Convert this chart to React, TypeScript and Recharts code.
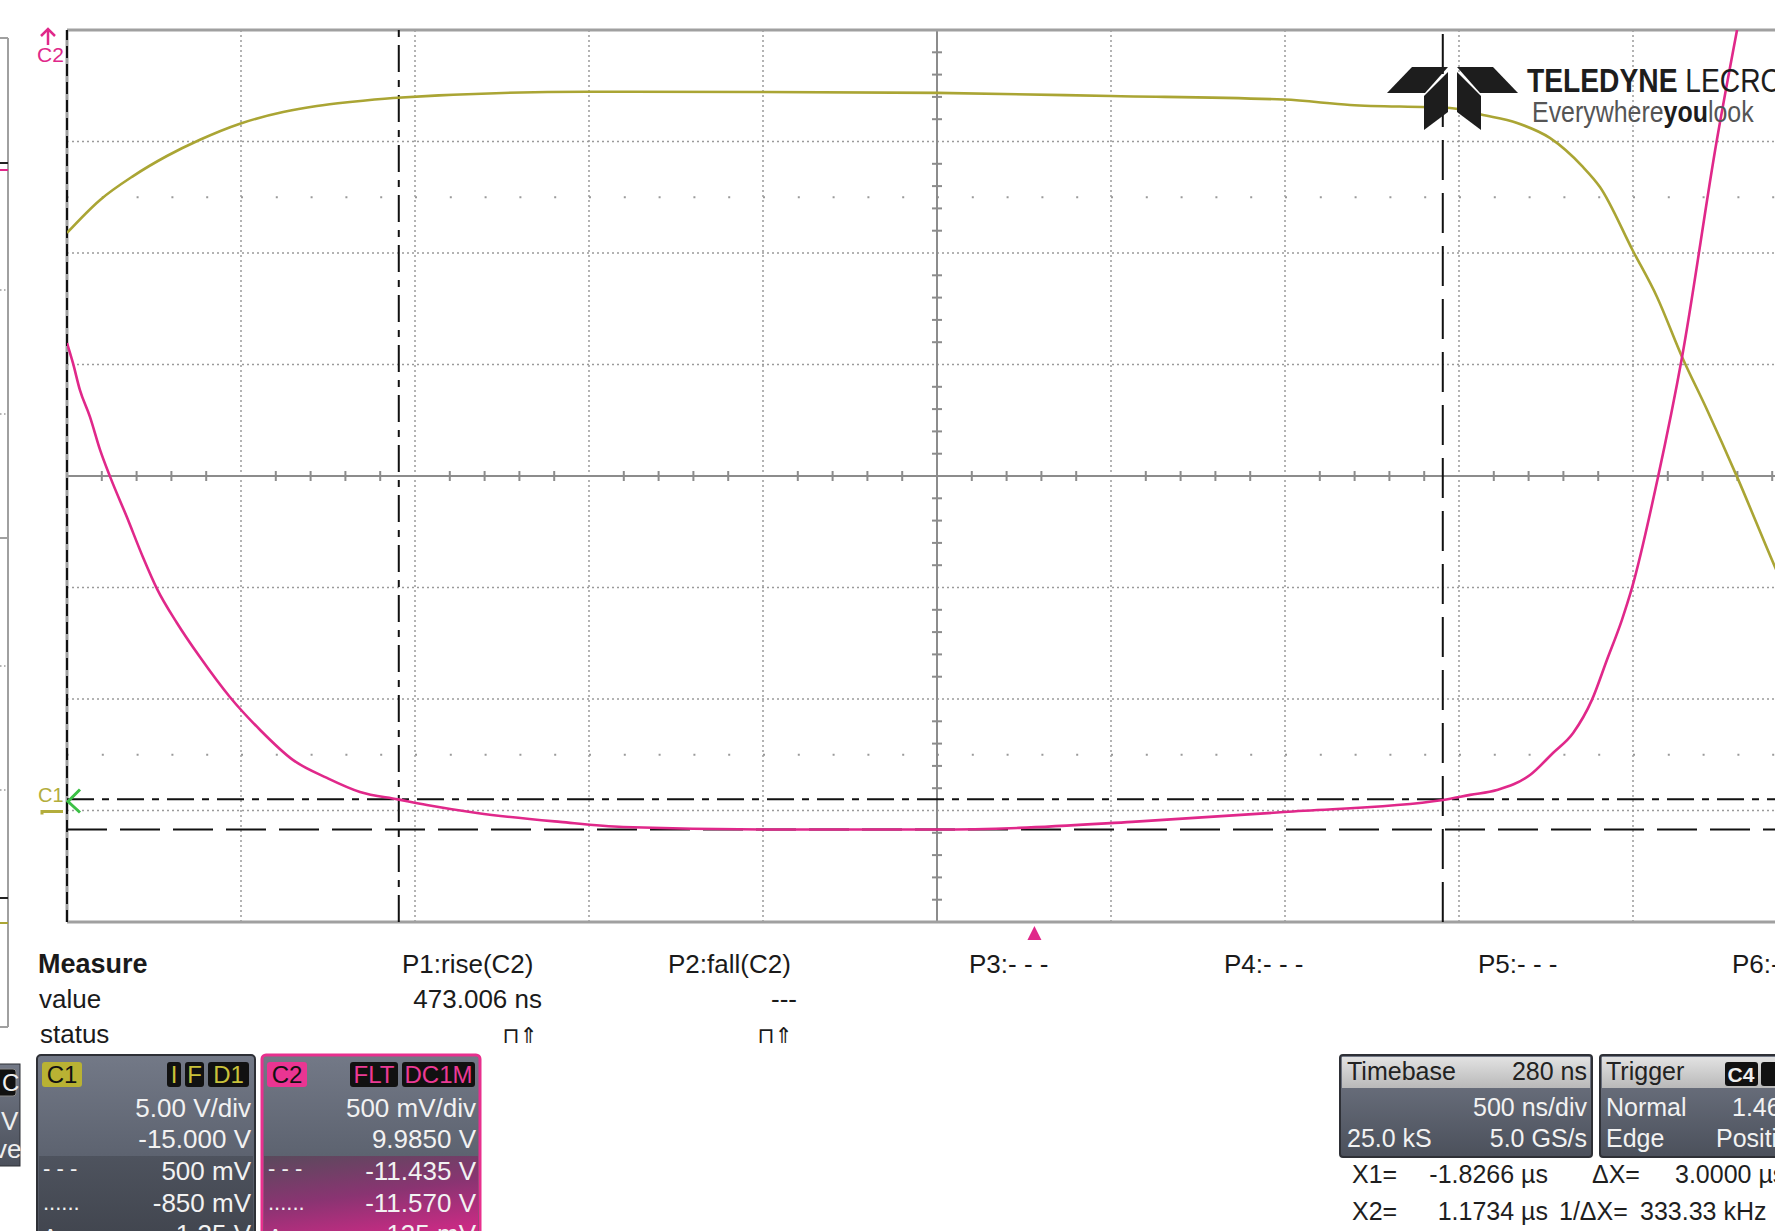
import { LineChart, Line, XAxis, YAxis, ReferenceLine, ReferenceDot } from "recharts";

// Horizontal: 10 div x 500 ns/div, centre at -280 ns (µs units)
const T_MIN = -2.78;
const T_MAX = 2.22;
// C2: 500 mV/div, offset 9.985 V -> centre at -9.985 V, 8 div tall
const C2_MIN = -11.985;
const C2_MAX = -7.985;
const C2_CENTER = -9.985;
const T_CENTER = -0.28;
// C1: 5 V/div, offset -15 V
const C1_MIN = -5;
const C1_MAX = 35;

// C1 trace (olive), time in µs, volts
const c1Time = [
  -2.78, -2.685, -2.59, -2.493, -2.398, -2.283, -2.159, -2.062, -1.967, -1.843, -1.286, -0.789, -0.28, 0.22,
  0.717, 0.907, 1.194, 1.289, 1.387, 1.481, 1.576, 1.625, 1.72, 1.789, 1.861, 1.933, 2.019, 2.128, 2.22,
];
const c1Volts = [
  25.9, 27.38, 28.45, 29.35, 30.08, 30.8, 31.32, 31.59, 31.77, 31.95, 32.23, 32.22, 32.18, 32.04, 31.88, 31.64,
  31.5, 31.19, 30.83, 30.16, 28.86, 27.96, 25.09, 23.03, 20.34, 17.96, 14.96, 10.92, 7.7,
];

// C2 trace (magenta)
const c2Time = [
  -2.78, -2.763, -2.743, -2.714, -2.685, -2.656, -2.608, -2.562, -2.521, -2.464, -2.398, -2.312, -2.225, -2.131,
  -2.033, -1.938, -1.829, -1.746, -1.602, -1.363, -1.182, -0.783, -0.28, -0.044, 0.28, 0.717, 1.174, 1.252, 1.329,
  1.424, 1.49, 1.548, 1.602, 1.645, 1.688, 1.717, 1.792, 1.861, 1.961, 2.019,
];
const c2Volts = [
  -9.389, -9.478, -9.599, -9.72, -9.868, -9.989, -10.169, -10.348, -10.492, -10.644, -10.797, -10.976, -11.124,
  -11.258, -11.339, -11.402, -11.435, -11.46, -11.496, -11.536, -11.559, -11.57, -11.57, -11.563, -11.536, -11.492,
  -11.438, -11.415, -11.393, -11.326, -11.227, -11.137, -10.989, -10.81, -10.631, -10.487, -9.989, -9.451, -8.478,
  -7.985,
];

const gridTimes = [-2.28, -1.78, -1.28, -0.78, 0.22, 0.72, 1.22, 1.72];
const gridVolts = [-11.485, -10.985, -10.485, -9.485, -8.985, -8.485];
const dotRowVolts = [-11.235, -8.735];

// cursors
const cursorX1 = -1.8266;
const cursorX2 = 1.1734;
const cursorY1 = -11.435;
const cursorY2 = -11.57;

// minor ticks on the centre axes, 0.2 div apart
const timeTicks = Array.from({ length: 49 }, (_, i) => i + 1)
  .filter((k) => k % 5 !== 0)
  .map((k) => T_MIN + k * 0.1);
const voltTicks = Array.from({ length: 39 }, (_, i) => i + 1)
  .filter((k) => k % 5 !== 0)
  .map((k) => C2_MIN + k * 0.1);

const measureNames = ["P1:rise(C2)", "P2:fall(C2)", "P3:- - -", "P4:- - -", "P5:- - -", "P6:- - -"];
const measureLeft = [402, 668, 969, 1224, 1478, 1732];
const measureValues = ["473.006 ns", "---"];
const measureRight = [542, 797];

const c1Rows = ["5.00 V/div", "-15.000 V", "500 mV", "-850 mV", "1.35 V"];
const c2Rows = ["500 mV/div", "9.9850 V", "-11.435 V", "-11.570 V", "135 mV"];

const c1Data = c1Time.map((t, i) => ({ t, v: c1Volts[i] }));
const c2Data = c2Time.map((t, i) => ({ t, v: c2Volts[i] }));

const FONT = "'Liberation Sans', Arial, sans-serif";
const OLIVE = "#aaa534";
const MAGENTA = "#e0288a";
const GRID = "#9a9a9a";

const TICK_T = 0.0144;
const TICK_V = 0.0224;

function TriggerMark(props: any) {
  const { cx, cy } = props;
  return <polygon points={`${cx},${cy + 4} ${cx - 7},${cy + 18} ${cx + 7},${cy + 18}`} fill={MAGENTA} />;
}

function C1Mark(props: any) {
  const { cx, cy } = props;
  return (
    <g>
      <text x={cx - 29} y={cy - 9} fontSize={20} fill="#b3ad3c" fontFamily={FONT}>
        C1
      </text>
      <path d={`M${cx - 25},${cy + 4} L${cx - 25},${cy + 1} L${cx - 4},${cy + 1}`} stroke="#b3ad3c" strokeWidth={3} fill="none" />
      <path d={`M${cx + 13},${cy - 21} L${cx + 1},${cy - 9} L${cx + 13},${cy + 2}`} stroke="#3cc046" strokeWidth={3} fill="none" />
    </g>
  );
}

function C2Mark(props: any) {
  const { cx, cy } = props;
  return (
    <g>
      <path d={`M${cx - 19},${cy + 15} L${cx - 19},${cy - 1}`} stroke={MAGENTA} strokeWidth={2.5} />
      <path d={`M${cx - 26},${cy + 6} L${cx - 19},${cy - 1} L${cx - 12},${cy + 6}`} stroke={MAGENTA} strokeWidth={2.5} fill="none" />
      <text x={cx - 30} y={cy + 32} fontSize={21} fill={MAGENTA} fontFamily={FONT}>
        C2
      </text>
    </g>
  );
}

function Scope() {
  return (
    <LineChart width={1820} height={1231} margin={{ top: 30, left: 67, right: 13, bottom: 309 }}>
      <XAxis dataKey="t" type="number" domain={[T_MIN, T_MAX]} hide allowDataOverflow />
      <YAxis yAxisId="c2" type="number" domain={[C2_MIN, C2_MAX]} hide allowDataOverflow />
      <YAxis yAxisId="c1" type="number" domain={[C1_MIN, C1_MAX]} hide allowDataOverflow />

      {gridTimes.map((t) => (
        <ReferenceLine key={`gx${t}`} x={t} yAxisId="c2" stroke={GRID} strokeWidth={1.5} strokeDasharray="2 3" />
      ))}
      {gridVolts.map((v) => (
        <ReferenceLine key={`gy${v}`} y={v} yAxisId="c2" stroke={GRID} strokeWidth={1.5} strokeDasharray="2 3" />
      ))}
      {dotRowVolts.map((v) => (
        <ReferenceLine key={`dr${v}`} y={v} yAxisId="c2" stroke={GRID} strokeWidth={2} strokeDasharray="2 32.8" />
      ))}
      <ReferenceLine x={T_CENTER} yAxisId="c2" stroke="#8c8c8c" strokeWidth={2} />
      <ReferenceLine y={C2_CENTER} yAxisId="c2" stroke="#8c8c8c" strokeWidth={2} />
      {timeTicks.map((t) => (
        <ReferenceLine
          key={`tt${t}`}
          yAxisId="c2"
          segment={[
            { x: t, y: C2_CENTER - TICK_V },
            { x: t, y: C2_CENTER + TICK_V },
          ]}
          stroke="#8c8c8c"
          strokeWidth={2}
        />
      ))}
      {voltTicks.map((v) => (
        <ReferenceLine
          key={`vt${v}`}
          yAxisId="c2"
          segment={[
            { x: T_CENTER - TICK_T, y: v },
            { x: T_CENTER + TICK_T, y: v },
          ]}
          stroke="#8c8c8c"
          strokeWidth={2}
        />
      ))}

      {/* frame */}
      <ReferenceLine y={C2_MAX} yAxisId="c2" stroke="#a0a0a0" strokeWidth={3} />
      <ReferenceLine y={C2_MIN} yAxisId="c2" stroke="#a0a0a0" strokeWidth={3} />
      <ReferenceLine x={T_MIN} yAxisId="c2" stroke="#a0a0a0" strokeWidth={3} />
      <ReferenceLine x={T_MIN} yAxisId="c2" stroke="#111" strokeWidth={2} strokeDasharray="12 6" />

      {/* cursors */}
      <ReferenceLine x={cursorX1} yAxisId="c2" stroke="#111" strokeWidth={2} strokeDasharray="27 8 7 8" />
      <ReferenceLine x={cursorX2} yAxisId="c2" stroke="#111" strokeWidth={2} strokeDasharray="40 13" />
      <ReferenceLine y={cursorY1} yAxisId="c2" stroke="#111" strokeWidth={2} strokeDasharray="27 8 7 8" />
      <ReferenceLine y={cursorY2} yAxisId="c2" stroke="#111" strokeWidth={2} strokeDasharray="40 13" />

      <Line
        data={c1Data}
        dataKey="v"
        yAxisId="c1"
        type="monotone"
        stroke={OLIVE}
        strokeWidth={2.6}
        dot={false}
        activeDot={false}
        isAnimationActive={false}
      />
      <Line
        data={c2Data}
        dataKey="v"
        yAxisId="c2"
        type="monotone"
        stroke={MAGENTA}
        strokeWidth={2.6}
        dot={false}
        activeDot={false}
        isAnimationActive={false}
      />

      <ReferenceDot x={0} y={C2_MIN} yAxisId="c2" r={0} shape={(p: any) => <TriggerMark {...p} />} />
      <ReferenceDot x={T_MIN} y={0} yAxisId="c1" r={0} shape={(p: any) => <C1Mark {...p} />} />
      <ReferenceDot x={T_MIN} y={C2_MAX} yAxisId="c2" r={0} shape={(p: any) => <C2Mark {...p} />} />
    </LineChart>
  );
}

function Badge({ x, w, label, bg, fg }: { x: number; w: number; label: string; bg: string; fg: string }) {
  return (
    <g>
      <rect x={x} y={1062} width={w} height={25} rx={3} fill={bg} />
      <text x={x + w / 2} y={1083} fontSize={24} fill={fg} textAnchor="middle">
        {label}
      </text>
    </g>
  );
}

function ChannelPanel({ x, rows, name, pink }: { x: number; rows: string[]; name: string; pink: boolean }) {
  const right = x + 214;
  return (
    <g>
      <rect x={x} y={1055} width={218} height={200} rx={4} fill="url(#panelTop)" stroke={pink ? "#e8308e" : "#2e3036"} strokeWidth={pink ? 3 : 2} />
      <rect x={x + 2} y={1156} width={214} height={95} fill={pink ? "url(#pinkBand)" : "url(#greyBand)"} />
      <Badge x={x + 5} w={40} label={name} bg={pink ? "#ea3592" : "#b9b233"} fg="#111" />
      {rows.map((r, i) => (
        <text key={r} x={right} y={[1117, 1148, 1180, 1212, 1243][i]} fontSize={26} fill="#f2f2f2" textAnchor="end">
          {r}
        </text>
      ))}
      <text x={x + 6} y={1176} fontSize={22} fill="#f2f2f2">
        - - -
      </text>
      <text x={x + 6} y={1210} fontSize={22} fill="#f2f2f2">
        ......
      </text>
      <text x={x + 6} y={1244} fontSize={22} fill="#f2f2f2">
        Δy
      </text>
    </g>
  );
}

function Overlay() {
  return (
    <svg width={1775} height={1231} style={{ position: "absolute", left: 0, top: 0 }} fontFamily={FONT}>
      <defs>
        <linearGradient id="panelTop" x1="0" y1="0" x2="0" y2="1">
          <stop offset="0" stopColor="#737987" />
          <stop offset="0.5" stopColor="#5d6370" />
          <stop offset="1" stopColor="#4a4f5a" />
        </linearGradient>
        <linearGradient id="greyBand" x1="0" y1="0" x2="0" y2="1">
          <stop offset="0" stopColor="#4e535e" />
          <stop offset="1" stopColor="#3f434c" />
        </linearGradient>
        <linearGradient id="pinkBand" x1="0" y1="0" x2="0.3" y2="1">
          <stop offset="0" stopColor="#5a4a5c" />
          <stop offset="0.5" stopColor="#8a3472" />
          <stop offset="1" stopColor="#d02a86" />
        </linearGradient>
        <linearGradient id="tbHead" x1="0" y1="0" x2="0" y2="1">
          <stop offset="0" stopColor="#e2e2e2" />
          <stop offset="1" stopColor="#b9b9b9" />
        </linearGradient>
        <linearGradient id="tbBody" x1="0" y1="0" x2="0" y2="1">
          <stop offset="0" stopColor="#737987" />
          <stop offset="1" stopColor="#4b505b" />
        </linearGradient>
      </defs>

      {/* neighbouring view strip on the left edge */}
      <g>
        <line x1={8} y1={38} x2={8} y2={1027} stroke="#a0a0a0" strokeWidth={2} />
        <line x1={0} y1={38} x2={8} y2={38} stroke="#a0a0a0" strokeWidth={2} />
        <line x1={0} y1={1027} x2={8} y2={1027} stroke="#a0a0a0" strokeWidth={2} />
        <line x1={0} y1={538} x2={8} y2={538} stroke="#a0a0a0" strokeWidth={2} />
        <line x1={0} y1={163} x2={8} y2={163} stroke="#222" strokeWidth={2} />
        <line x1={0} y1={170} x2={8} y2={170} stroke={MAGENTA} strokeWidth={2} />
        <line x1={0} y1={898} x2={8} y2={898} stroke="#222" strokeWidth={2} />
        <line x1={0} y1={923} x2={8} y2={923} stroke={OLIVE} strokeWidth={2} />
        {[290, 414, 666, 790].map((y) => (
          <line key={y} x1={0} y1={y} x2={7} y2={y} stroke={GRID} strokeWidth={1.5} strokeDasharray="1.5 2.5" />
        ))}
        <rect x={-10} y={1064} width={30} height={102} fill="url(#tbBody)" stroke="#2e3036" />
        <rect x={-4} y={1069} width={20} height={27} rx={3} fill="#111" stroke="#888" />
        <text x={2} y={1091} fontSize={24} fill="#eee">C</text>
        <text x={1} y={1130} fontSize={26} fill="#eee">V</text>
        <text x={-6} y={1158} fontSize={26} fill="#eee">ve</text>
      </g>

      {/* logo */}
      <g>
        <polygon points="1387,93 1412,67 1448,67 1425,93" fill="#1d1d1d" />
        <polygon points="1518,93 1493,67 1457,67 1480,93" fill="#1d1d1d" />
        <polygon points="1424,96 1448,72 1448,112 1424,130" fill="#1d1d1d" />
        <polygon points="1481,96 1457,72 1457,112 1481,130" fill="#1d1d1d" />
        <g transform="translate(1527,92) scale(0.83,1)">
          <text x={0} y={0} fontSize={34} fill="#1d1d1d">
            <tspan fontWeight="bold">TELEDYNE</tspan>
            <tspan> LECROY</tspan>
          </text>
        </g>
        <g transform="translate(1532,122) scale(0.86,1)">
          <text x={0} y={0} fontSize={29} fill="#555">
            Everywhere<tspan fontWeight="bold" fill="#1d1d1d">you</tspan>look
          </text>
        </g>
      </g>

      {/* measurement table */}
      <g fill="#1a1a1a">
        <text x={38} y={973} fontSize={27} fontWeight="bold">Measure</text>
        <text x={39} y={1008} fontSize={26}>value</text>
        <text x={40} y={1043} fontSize={26}>status</text>
        {measureNames.map((m, i) => (
          <text key={m + i} x={measureLeft[i]} y={973} fontSize={26}>
            {m}
          </text>
        ))}
        {measureValues.map((v, i) => (
          <text key={v} x={measureRight[i]} y={1008} fontSize={26} textAnchor="end">
            {v}
          </text>
        ))}
        {measureRight.map((r) => (
          <text key={r} x={r - 4} y={1043} fontSize={22} textAnchor="end" fontFamily="'DejaVu Sans'">
            ⊓⇑
          </text>
        ))}
      </g>

      <ChannelPanel x={37} rows={c1Rows} name="C1" pink={false} />
      <Badge x={167} w={14} label="I" bg="#111" fg="#c9c23a" />
      <Badge x={185} w={19} label="F" bg="#111" fg="#c9c23a" />
      <Badge x={208} w={41} label="D1" bg="#111" fg="#c9c23a" />

      <ChannelPanel x={262} rows={c2Rows} name="C2" pink={true} />
      <Badge x={350} w={48} label="FLT" bg="#111" fg="#ec3a95" />
      <Badge x={402} w={73} label="DC1M" bg="#111" fg="#ec3a95" />

      {/* timebase & trigger */}
      <g>
        <rect x={1340} y={1055} width={252} height={102} rx={3} fill="url(#tbBody)" stroke="#2e3036" strokeWidth={2} />
        <rect x={1342} y={1057} width={248} height={31} fill="url(#tbHead)" />
        <text x={1347} y={1080} fontSize={25} fill="#222">Timebase</text>
        <text x={1587} y={1080} fontSize={25} fill="#222" textAnchor="end">280 ns</text>
        <text x={1587} y={1116} fontSize={25} fill="#f2f2f2" textAnchor="end">500 ns/div</text>
        <text x={1347} y={1147} fontSize={25} fill="#f2f2f2">25.0 kS</text>
        <text x={1587} y={1147} fontSize={25} fill="#f2f2f2" textAnchor="end">5.0 GS/s</text>

        <rect x={1600} y={1055} width={200} height={102} rx={3} fill="url(#tbBody)" stroke="#2e3036" strokeWidth={2} />
        <rect x={1602} y={1057} width={196} height={31} fill="url(#tbHead)" />
        <text x={1606} y={1080} fontSize={25} fill="#222">Trigger</text>
        <rect x={1725} y={1062} width={33} height={24} rx={3} fill="#111" />
        <text x={1741} y={1082} fontSize={21} fill="#eee" textAnchor="middle" fontWeight="bold">C4</text>
        <rect x={1761} y={1062} width={20} height={24} rx={3} fill="#111" />
        <text x={1606} y={1116} fontSize={25} fill="#f2f2f2">Normal</text>
        <text x={1732} y={1116} fontSize={25} fill="#f2f2f2">1.46 V</text>
        <text x={1606} y={1147} fontSize={25} fill="#f2f2f2">Edge</text>
        <text x={1716} y={1147} fontSize={25} fill="#f2f2f2">Positive</text>
      </g>

      {/* cursor readout */}
      <g fill="#1e1e1e" fontSize={25}>
        <text x={1352} y={1183}>X1=</text>
        <text x={1548} y={1183} textAnchor="end">-1.8266 µs</text>
        <text x={1592} y={1183}>ΔX=</text>
        <text x={1675} y={1183}>3.0000 µs</text>
        <text x={1352} y={1220}>X2=</text>
        <text x={1548} y={1220} textAnchor="end">1.1734 µs</text>
        <text x={1559} y={1220}>1/ΔX=</text>
        <text x={1640} y={1220}>333.33 kHz</text>
      </g>
    </svg>
  );
}

export default function App() {
  return (
    <div
      style={{
        position: "fixed",
        left: 0,
        top: 0,
        width: 1775,
        height: 1231,
        overflow: "hidden",
        background: "#fff",
        fontFamily: FONT,
      }}
    >
      <div style={{ position: "absolute", left: 0, top: 0 }}>
        <Scope />
      </div>
      <Overlay />
    </div>
  );
}
